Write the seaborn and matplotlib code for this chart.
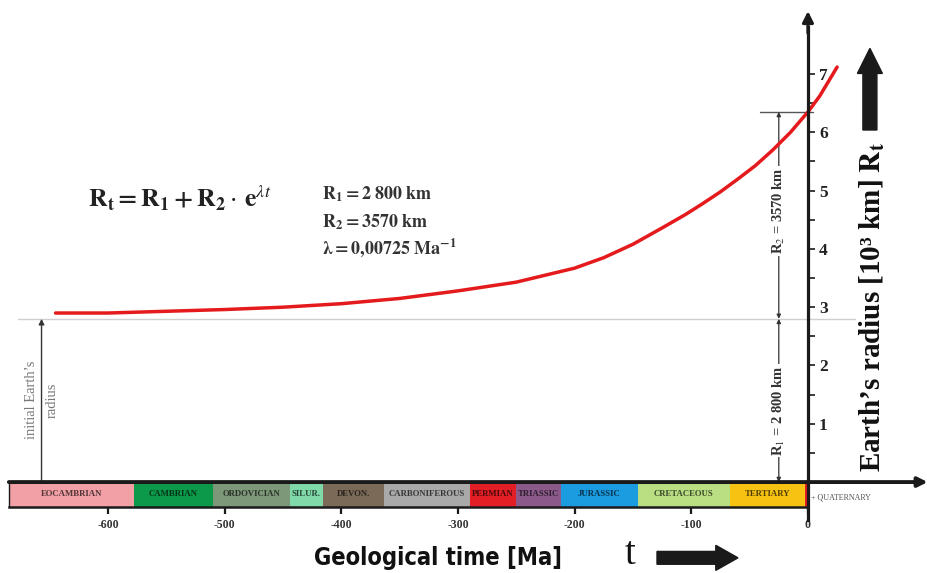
import matplotlib
matplotlib.use('Agg')
import matplotlib.pyplot as plt
import matplotlib.colors as mcolors
import numpy as np
import pandas as pd
import seaborn as sns

# ---------------- data ----------------
time_ma = [-645, -600, -550, -500, -450, -400, -350, -300, -250, -200, -175,
           -150, -125, -105, -90, -75, -60, -45, -30, -15, 0, 10, 25]
radius_1e3km = [2.90, 2.90, 2.93, 2.96, 3.00, 3.06, 3.15, 3.28, 3.43, 3.67, 3.85,
                4.08, 4.36, 4.59, 4.78, 4.98, 5.20, 5.43, 5.70, 6.00, 6.35, 6.62, 7.12]

period_names = ['EOCAMBRIAN', 'CAMBRIAN', 'ORDOVICIAN', 'SILUR.', 'DEVON.',
                'CARBONIFEROUS', 'PERMIAN', 'TRIASSIC', 'JURASSIC',
                'CRETACEOUS', 'TERTIARY', '']
period_start = [-685, -578, -510, -444, -416, -363, -290, -250, -212, -146, -67, -2.5]
period_end = [-578, -510, -444, -416, -363, -290, -250, -212, -146, -67, -2.5, 0]
period_colors = ['#f2a0a6', '#0c9a4a', '#7d9878', '#7fd9a9', '#7b6a58', '#a9a9a9',
                 '#e31e24', '#8b5a8a', '#1b9be0', '#b9df82', '#f7c312', '#e31e24']

x_ticks = [-600, -500, -400, -300, -200, -100, 0]
x_tick_labels = ['-600', '-500', '-400', '-300', '-200', '-100', '0']
y_ticks = [1, 2, 3, 4, 5, 6, 7]
y_tick_labels = ['1', '2', '3', '4', '5', '6', '7']
y_minor_ticks = [0.5, 1.5, 2.5, 3.5, 4.5, 5.5, 6.5]

r1_value = 2.8          # initial radius (10^3 km)
r_today = 6.35          # present radius (10^3 km)

# ---------------- style ----------------
sns.set_theme(style='white')
plt.rcParams['font.family'] = ['Liberation Serif', 'DejaVu Serif']
plt.rcParams['mathtext.fontset'] = 'stix'
plt.rcParams['axes.unicode_minus'] = False

fig = plt.figure(figsize=(9.28, 5.73), dpi=100)
ax = fig.add_axes([0, 0, 1, 1])
ax.set_xlim(-692.6, 102.9)
ax.set_ylim(-1.56, 8.27)
ax.set_facecolor('white')
ax.grid(False)

# ---------------- geological strip ----------------
strip_h = 0.42
widths = [e - s for s, e in zip(period_start, period_end)]
ax.bar(period_start, [strip_h] * len(widths), width=widths, bottom=-strip_h,
       align='edge', color=period_colors, edgecolor='none', zorder=2)
for name, s, e, c in zip(period_names, period_start, period_end, period_colors):
    if not name:
        continue
    dark = tuple(v * 0.33 for v in mcolors.to_rgb(c))
    ax.text((s + e) / 2, -strip_h / 2, name, ha='center', va='center',
            fontsize=6.3, weight='bold', color=dark, zorder=3)
ax.plot([period_start[0], period_start[0]], [-strip_h, 0], color='k', lw=1, zorder=3)
ax.text(3, -0.27, '+ QUATERNARY', ha='left', va='center', fontsize=5.8,
        color='#555555', zorder=3)

# ---------------- reference lines ----------------
ax.plot([-677, 40], [r1_value, r1_value], color='#cfcfcf', lw=1, zorder=1)
ax.plot([-41, 4], [r_today, r_today], color='#555555', lw=1, zorder=3)

# ---------------- curve ----------------
sns.lineplot(x=time_ma, y=radius_1e3km, ax=ax, color='#e41a1c', lw=2.5, zorder=5)

# ---------------- axes ----------------
for side in ['left', 'top']:
    ax.spines[side].set_visible(False)
ax.spines['right'].set_position(('data', 0))
ax.spines['right'].set_bounds(-0.65, 7.8)
ax.spines['right'].set_linewidth(2.3)
ax.spines['right'].set_color('k')
ax.spines['right'].set_zorder(6)
ax.spines['bottom'].set_position(('data', -strip_h))
ax.spines['bottom'].set_bounds(period_start[0], 0)
ax.spines['bottom'].set_linewidth(1.8)
ax.spines['bottom'].set_color('k')

ax.yaxis.set_ticks_position('right')
ax.set_yticks(y_ticks, y_tick_labels)
ax.set_yticks(y_minor_ticks, minor=True)
ax.tick_params(axis='y', which='both', right=True, left=False, direction='out',
               length=5, width=1.2, labelsize=12.5, pad=3, colors='k')
for lbl in ax.get_yticklabels():
    lbl.set_fontweight('bold')
    lbl.set_color('#222222')

ax.xaxis.set_ticks_position('bottom')
ax.set_xticks(x_ticks, x_tick_labels)
ax.tick_params(axis='x', which='both', bottom=True, top=False, direction='out',
               length=5, width=1.6, labelsize=8.5, pad=4, colors='k')
for lbl in ax.get_xticklabels():
    lbl.set_fontweight('bold')
    lbl.set_color('#333333')
ax.set_xlabel('')
ax.set_ylabel('')

# axis arrows
ax.annotate('', xy=(102.6, 0), xytext=(period_start[0], 0),
            arrowprops=dict(arrowstyle='-|>', color='k', lw=2.8,
                            mutation_scale=14, shrinkA=0, shrinkB=0), zorder=6)
ax.annotate('', xy=(0, 8.08), xytext=(0, 7.7),
            arrowprops=dict(arrowstyle='-|>', color='k', lw=2.3,
                            mutation_scale=16, shrinkA=0, shrinkB=0), zorder=6)

# ---------------- dimension annotations ----------------
dim_x = -25
arrow_kw = dict(arrowstyle='<|-|>', color='#333333', lw=0.9,
                mutation_scale=6, shrinkA=0, shrinkB=0)
ax.annotate('', xy=(dim_x, 0), xytext=(dim_x, r1_value), arrowprops=arrow_kw, zorder=4)
ax.annotate('', xy=(dim_x, r_today), xytext=(dim_x, r1_value), arrowprops=arrow_kw, zorder=4)
ax.text(dim_x, 1.23, r'R$_1$ = 2 800 km', rotation=90, ha='center', va='center',
        fontsize=10.5, weight='bold', color='#333333',
        bbox=dict(facecolor='white', edgecolor='none', pad=1), zorder=5)
ax.text(dim_x, 4.65, r'R$_2$ = 3570 km', rotation=90, ha='center', va='center',
        fontsize=10.5, weight='bold', color='#333333',
        bbox=dict(facecolor='white', edgecolor='none', pad=1), zorder=5)

# initial radius arrow
ax.annotate('', xy=(-657, r1_value), xytext=(-657, 0),
            arrowprops=dict(arrowstyle='-|>', color='#333333', lw=1.0,
                            mutation_scale=8, shrinkA=0, shrinkB=0), zorder=4)
ax.text(-657, 1.41, "initial Earth\u2019s\nradius", rotation=90, ha='center',
        va='center', fontsize=10.5, color='#777777', linespacing=1.75, zorder=4)

# ---------------- formula text ----------------
ax.text(-617, 4.88, r'$\mathbf{R_t = R_1 + R_2}\cdot\,\mathbf{e}^{\lambda t}$',
        ha='left', va='center', fontsize=18.5, color='#222222')
ax.text(-416.6, 4.94, r'$\mathbf{R_1 = 2\ 800\ km}$', ha='left', va='center',
        fontsize=13, color='#333333')
ax.text(-416.6, 4.46, r'$\mathbf{R_2 = 3570\ km}$', ha='left', va='center',
        fontsize=13, color='#333333')
ax.text(-416.6, 4.03, r'$\mathbf{\lambda = 0{,}00725\ Ma^{-1}}$', ha='left',
        va='center', fontsize=13, color='#333333')

# ---------------- axis titles ----------------
ax.text(-317, -1.30, 'Geological time [Ma]', ha='center', va='center',
        family='DejaVu Sans', stretch='condensed', weight='heavy',
        fontsize=17, color='#111111')
ax.text(-152.6, -1.24, 't', ha='center', va='center', fontsize=28, color='#111111')
ax.arrow(-129.4, -1.30, 69.4, 0, width=0.22, head_width=0.43, head_length=19,
         length_includes_head=True, color='k', zorder=5)

ax.text(54.9, 3.0, 'Earth\u2019s radius [10\u00b3 km] $\\mathbf{R_t}$', rotation=90,
        ha='center', va='center', fontsize=21, weight='bold', color='#111111')
ax.arrow(53.1, 6.04, 0, 1.40, width=12, head_width=21.4, head_length=0.43,
         length_includes_head=True, color='k', zorder=5)

fig.savefig('out.png', dpi=100)
